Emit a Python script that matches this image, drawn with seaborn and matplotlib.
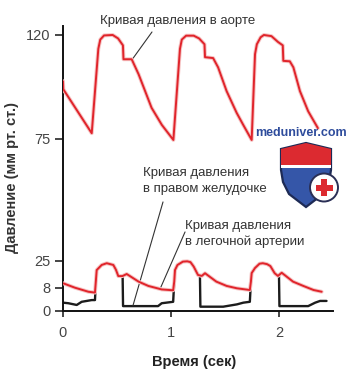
import numpy as np
import seaborn as sns
import matplotlib
matplotlib.use("Agg")
import matplotlib.pyplot as plt
import matplotlib.patheffects as pe
from matplotlib.patches import Polygon, Circle, Rectangle

# Кривые давления: время (сек) и давление (мм рт. ст.)
aorta_t = [0.0, 0.003, 0.266, 0.327, 0.345, 0.38, 0.46, 0.51, 0.555, 0.56, 0.636,
           0.70, 0.82, 0.915, 1.022, 1.083, 1.10, 1.14, 1.21, 1.26, 1.31, 1.315, 1.39,
           1.436, 1.515, 1.608, 1.67, 1.747, 1.778, 1.795, 1.83, 1.86, 1.93, 1.99,
           2.035, 2.04, 2.10, 2.133, 2.194, 2.27, 2.36]
aorta_p = [100.0, 96.5, 77.5, 114, 118, 119.8, 120, 118.5, 115.5, 109.5, 109.5,
           103, 88.5, 81.1, 74.6, 114, 118, 119.7, 119.7, 118.5, 116, 110.4, 110,
           106, 95.7, 86.3, 81, 74.6, 111.7, 116, 119, 120, 119.5, 117,
           115.5, 108.8, 108.6, 106, 95.7, 87, 79.7]

pulm_t = [0.0, 0.11, 0.235, 0.296, 0.305, 0.312, 0.358, 0.405, 0.466, 0.49, 0.512, 0.55,
          0.59, 0.70, 0.79, 0.914, 1.02, 1.03, 1.037, 1.06, 1.11, 1.15, 1.18, 1.21,
          1.25, 1.285, 1.315, 1.42, 1.515, 1.61, 1.73, 1.74, 1.747, 1.778, 1.82, 1.85,
          1.89, 1.92, 1.96, 1.99, 2.025, 2.13, 2.225, 2.32, 2.395]
pulm_p = [11.0, 8.2, 6.7, 6.4, 13, 19.3, 22.5, 23.6, 22.5, 19.5, 15.5, 15.5,
          16.8, 12, 9.3, 7.5, 7.2, 12, 19.3, 22.5, 24.6, 24.8, 24.3, 21.5,
          16.2, 15.6, 17.3, 12, 9.3, 7.9, 7.3, 12, 17.4, 20.6, 23.3, 23.6,
          23, 21.8, 17.3, 15.6, 17.6, 12, 9.3, 7.3, 6.7]

rv_t = [0.0, 0.05, 0.127, 0.173, 0.266, 0.296, 0.305, 0.312, 0.358, 0.405, 0.466, 0.49,
        0.512, 0.552, 0.556, 0.88, 0.914, 1.02, 1.03, 1.037, 1.06, 1.11, 1.15, 1.18,
        1.21, 1.25, 1.268, 1.272, 1.483, 1.61, 1.67, 1.73, 1.74, 1.747, 1.778, 1.82,
        1.85, 1.89, 1.92, 1.96, 1.99, 2.0, 2.004, 2.27, 2.335, 2.38, 2.44]
rv_p = [2.9, 2.7, 2.1, 3.2, 3.8, 3.8, 13, 19.3, 22.5, 23.6, 22.5, 19.5,
        15.5, 15.5, 1.7, 1.7, 2.7, 3.2, 12, 19.3, 22.5, 24.6, 24.8, 24.3,
        21.5, 16.2, 15.9, 1.5, 1.5, 2.3, 2.9, 3.2, 12, 17.4, 20.6, 23.3,
        23.6, 23, 21.8, 17.3, 15.6, 15.6, 1.7, 1.7, 2.9, 3.5, 3.5]

y_ticks = [0, 8, 25, 75, 120]
x_ticks = [0, 1, 2]

# подписи
lbl_aorta = "Кривая давления в аорте"
lbl_rv = "Кривая давления\nв правом желудочке"
lbl_pulm = "Кривая давления\nв легочной артерии"

# шкала по оси Y на рисунке неравномерная (кусочно-линейная)
scale_v = [-10, 0, 8, 25, 75, 120, 160]
scale_p = [-29, 0, 23, 50, 172, 276, 368]


def fwd(v):
    return np.interp(v, scale_v, scale_p)


def inv(p):
    return np.interp(p, scale_p, scale_v)


sns.set_style("ticks")
plt.rcParams["font.family"] = ["Liberation Sans", "DejaVu Sans"]

fig = plt.figure(figsize=(3.53, 3.70), dpi=100)
ax = fig.add_axes([63 / 353, 59 / 370, 270 / 353, 285 / 370])

red = "#e0242b"
glow = [pe.Stroke(linewidth=2.8, foreground="#f6c4c4"), pe.Normal()]

sns.lineplot(x=rv_t, y=rv_p, ax=ax, estimator=None, sort=False,
             color="#1c1c1c", linewidth=1.7, zorder=2)
sns.lineplot(x=pulm_t, y=pulm_p, ax=ax, estimator=None, sort=False,
             color=red, linewidth=1.4, zorder=3, path_effects=glow)
sns.lineplot(x=aorta_t, y=aorta_p, ax=ax, estimator=None, sort=False,
             color=red, linewidth=1.4, zorder=3, path_effects=glow)

ax.set_yscale("function", functions=(fwd, inv))
ax.set_xlim(0, 2.5)
ax.set_ylim(0, 123.9)
ax.set_xticks(x_ticks)
ax.set_yticks(y_ticks)
ax.set_yticklabels([str(v) for v in y_ticks])
ax.minorticks_off()
sns.despine(ax=ax)
for s in ["left", "bottom"]:
    ax.spines[s].set_linewidth(1.4)
    ax.spines[s].set_color("#111111")
ax.tick_params(axis="y", length=6, width=1.2, pad=3, labelsize=10.5, labelcolor="#444444")
ax.tick_params(axis="x", length=4, width=1.2, pad=7, labelsize=10.5, labelcolor="#444444")

ax.set_ylabel("Давление (мм рт. ст.)", fontsize=10.5, fontweight="bold", color="#333333")
ax.set_xlabel("Время (сек)", fontsize=10.5, fontweight="bold", color="#222222")
ax.yaxis.set_label_coords(-0.163, 0.468)
ax.xaxis.set_label_coords(0.485, -0.154)

# выноски
txt = dict(fontsize=9.5, color="#333333", clip_on=False)
ax.text(1.06, 126.2, lbl_aorta, ha="center", va="center", **txt)
ax.plot([0.824, 0.639], [121.3, 109.3], color="#333333", lw=0.8, clip_on=False)
ax.text(0.74, 57.8, lbl_rv, ha="left", va="center", linespacing=1.35, **txt)
ax.plot([0.926, 0.648], [49.2, 1.9], color="#333333", lw=0.8)
ax.text(1.13, 36.1, lbl_pulm, ha="left", va="center", linespacing=1.35, **txt)
ax.plot([1.13, 0.898], [36.9, 7.6], color="#333333", lw=0.8)

# водяной знак
fig.text(255 / 353, 1 - 133 / 370, "meduniver.com", ha="left", va="center",
         fontsize=9, fontweight="bold", color="#2e4c9c")
ov = fig.add_axes([0, 0, 1, 1], zorder=5)
ov.set_xlim(0, 353)
ov.set_ylim(370, 0)
ov.axis("off")
ov.patch.set_alpha(0)
shield = Polygon([(281, 149), (306, 143), (331, 149), (331, 170), (329, 182), (323, 194),
                  (306, 207), (289, 194), (283, 182), (281, 170)],
                 closed=True, fc="#3556a8", ec="#1d2a55", lw=1.6)
ov.add_patch(shield)
band = Rectangle((276, 138), 60, 27, fc="#dc2a30", ec="none")
band.set_clip_path(shield)
ov.add_patch(band)
stripe = Rectangle((276, 165), 60, 3, fc="white", ec="none")
stripe.set_clip_path(shield)
ov.add_patch(stripe)
ov.add_patch(Circle((324, 187.5), 14, fc="white", ec="#2a2f55", lw=1.4))
ov.add_patch(Rectangle((315.5, 184.5), 17, 6, fc="#dc2a30", ec="none"))
ov.add_patch(Rectangle((321, 179), 6, 17, fc="#dc2a30", ec="none"))

fig.savefig("out.png", dpi=100)
